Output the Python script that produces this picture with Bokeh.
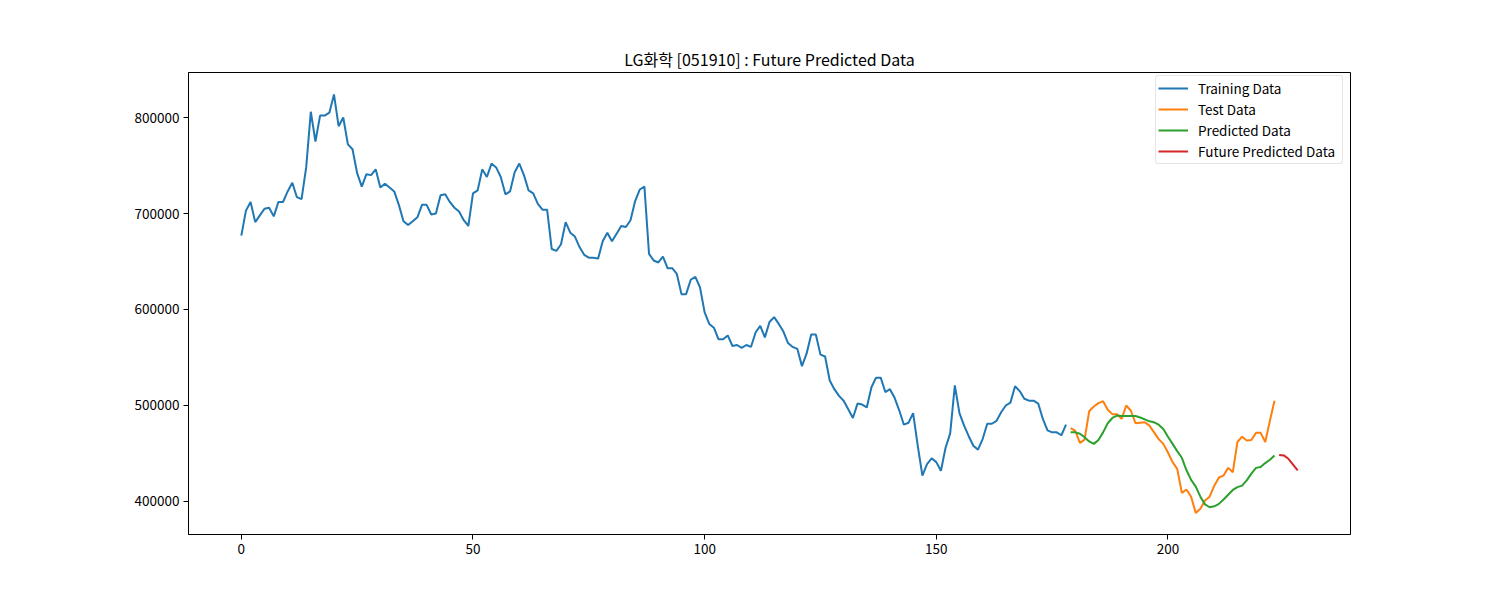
from bokeh.plotting import figure
from bokeh.models import FixedTicker, NumeralTickFormatter, Range1d, Legend, LegendItem
from bokeh.embed import file_html
from bokeh.resources import INLINE

TITLE = "LG화학 [051910] : Future Predicted Data"
FONT = "Noto Sans CJK KR"

train_vals = [
    677000, 703000, 712000, 691000, 698000, 705000, 706000, 697000, 712000, 712000,
    723000, 732000, 717000, 715000, 748000, 806000, 775000, 802000, 802000, 805000,
    824000, 791000, 800000, 772000, 767000, 742000, 728000, 741000, 740000, 746000,
    727000, 731000, 727000, 723000, 709000, 692000, 688000, 692000, 696000, 709000,
    709000, 699000, 700000, 719000, 720000, 712000, 706000, 702000, 693000, 687000,
    721000, 724000, 746000, 738000, 752000, 748000, 738000, 720000, 723000, 743000,
    752000, 740000, 724000, 721000, 710000, 704000, 704000, 663000, 661000, 668000,
    691000, 680000, 676000, 665000, 657000, 654000, 654000, 653000, 671000, 680000,
    671000, 679000, 687000, 686000, 693000, 713000, 725000, 728000, 658000, 651000,
    649000, 655000, 643000, 643000, 637000, 616000, 616000, 631000, 634000, 623000,
    597000, 585000, 581000, 569000, 569000, 573000, 562000, 563000, 560000, 563000,
    561000, 576000, 583000, 571000, 587000, 592000, 585000, 577000, 565000, 561000,
    559000, 541000, 554000, 574000, 574000, 553000, 551000, 526000, 517000, 510000,
    505000, 496000, 487000, 502000, 501000, 498000, 519000, 529000, 529000, 514000,
    517000, 508000, 495000, 480000, 482000, 492000, 458000, 427000, 439000, 445000,
    441000, 432000, 456000, 471000, 521000, 492000, 479000, 468000, 458000, 454000,
    465000, 481000, 481000, 484000, 493000, 500000, 503000, 520000, 515000, 507000,
    505000, 505000, 502000, 486000, 474000, 472000, 472000, 469000, 480000,
]

test_vals = [
    476500, 473500, 461000, 464500, 494000, 499000, 502500, 504500, 495500, 491000,
    491000, 486000, 500000, 494500, 481500, 482000, 482500, 479000, 472000, 465000,
    460000, 451000, 441000, 434000, 409000, 412500, 405000, 388000, 392500, 401000,
    405000, 416500, 425000, 427000, 435000, 430500, 462000, 467500, 463500, 464000,
    471500, 471500, 462000, 484000, 505000,
]

pred_vals = [
    472000, 472000, 470500, 467000, 462500, 460000, 464000, 472000, 481500, 487000,
    489500, 489000, 489000, 489000, 489000, 487500, 485500, 483500, 482500, 480000,
    475500, 467500, 460000, 452500, 445500, 432500, 422500, 415500, 405000, 397000,
    394000, 395000, 397500, 402000, 407000, 412000, 415000, 416500, 422000, 429000,
    435000, 436000, 440000, 443500, 448000,
]

future_vals = [448500, 448000, 444500, 438500, 432500]

x_ticks = [0, 50, 100, 150, 200]
y_ticks = [400000, 500000, 600000, 700000, 800000]

n_train = len(train_vals)
train_x = list(range(n_train))
test_x = list(range(n_train, n_train + len(test_vals)))
pred_x = list(range(n_train, n_train + len(pred_vals)))
future_x = list(range(n_train + len(test_vals), n_train + len(test_vals) + len(future_vals)))

p = figure(
    width=1492, height=592,
    frame_width=1162, frame_height=462,
    min_border_left=188, min_border_right=142, min_border_top=72, min_border_bottom=58,
    output_backend="svg", toolbar_location=None,
    x_range=Range1d(-11.4, 239.4), y_range=Range1d(365600, 846900),
    title=TITLE,
)
p.title.align = "center"
p.title.text_font = FONT
p.title.text_font_size = "16px"
p.title.text_font_style = "normal"
p.title.text_color = "black"
p.title.standoff = 4

p.xgrid.visible = False
p.ygrid.visible = False
p.outline_line_color = "black"
p.outline_line_width = 1
p.background_fill_color = "white"
p.border_fill_color = "white"

for ax in (p.xaxis[0], p.yaxis[0]):
    ax.axis_line_color = "black"
    ax.major_tick_line_color = "black"
    ax.major_tick_out = 5
    ax.major_tick_in = 0
    ax.minor_tick_line_color = None
    ax.major_label_text_font = FONT
    ax.major_label_text_font_size = "13.5px"
    ax.major_label_text_color = "black"
    ax.major_label_standoff = 4

p.xaxis[0].ticker = FixedTicker(ticks=x_ticks)
p.yaxis[0].ticker = FixedTicker(ticks=y_ticks)
p.yaxis[0].formatter = NumeralTickFormatter(format="0")
p.xaxis[0].formatter = NumeralTickFormatter(format="0")

lw = 2
r1 = p.line(train_x, train_vals, line_color="#1f77b4", line_width=lw)
r2 = p.line(test_x, test_vals, line_color="#ff7f0e", line_width=lw)
r3 = p.line(pred_x, pred_vals, line_color="#2ca02c", line_width=lw)
r4 = p.line(future_x, future_vals, line_color="#d62728", line_width=lw)

legend = Legend(items=[
    LegendItem(label="Training Data", renderers=[r1]),
    LegendItem(label="Test Data", renderers=[r2]),
    LegendItem(label="Predicted Data", renderers=[r3]),
    LegendItem(label="Future Predicted Data", renderers=[r4]),
], location=(967, 370))
legend.label_text_font = FONT
legend.label_text_font_size = "13.5px"
legend.label_text_color = "black"
legend.glyph_width = 30
legend.glyph_height = 14
legend.label_height = 14
legend.label_width = 142
legend.spacing = 1
legend.padding = 2
legend.margin = 0
legend.label_standoff = 10
legend.border_line_color = "#cccccc"
legend.border_line_width = 1
legend.border_radius = 3
legend.background_fill_alpha = 0.8
p.add_layout(legend)

open("out.html", "w").write(file_html(p, INLINE))
